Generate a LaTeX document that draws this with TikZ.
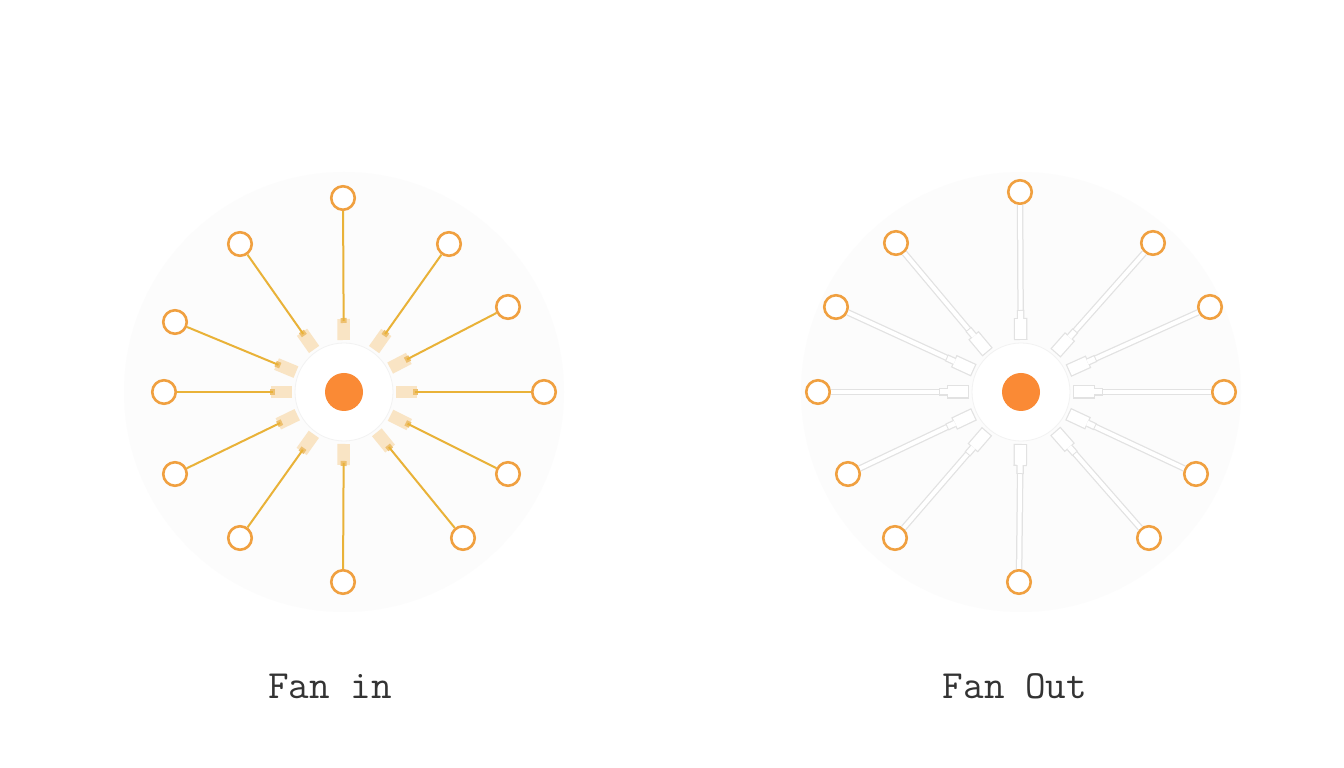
\documentclass[tikz,border=0pt]{standalone}
\usetikzlibrary{calc}
\definecolor{ring}{HTML}{F0A040}
\definecolor{dot}{HTML}{FA8A35}
\definecolor{gold}{HTML}{E9B238}
\definecolor{peach}{HTML}{F9E4C4}
\definecolor{peachd}{HTML}{EEC070}
\definecolor{halo}{HTML}{FCFCFC}
\definecolor{wire}{HTML}{E2E2E2}
\definecolor{txt}{HTML}{333333}
\tikzset{
  outer/.style={circle,draw=ring,line width=2.6pt,minimum size=23.5pt,inner sep=0pt,fill=white},
  hub/.style={circle,fill=dot,minimum size=38pt,inner sep=0pt},
  disk/.style={circle,fill=white,draw=black!5,line width=0.8pt,minimum size=98pt,inner sep=0pt},
  halodisk/.style={circle,fill=halo,minimum size=440pt,inner sep=0pt},
  linkin/.style={draw=gold,line width=2pt},
  stubin/.style={draw=peach,line width=12.5pt},
  tipin/.style={draw=peachd,line width=6pt},
  wireout/.style={draw=wire,line width=6.5pt},
  wirein/.style={draw=white,line width=4pt},
  stubout/.style={draw=wire,line width=13.5pt},
  stubouti/.style={draw=white,line width=11pt},
  label/.style={font=\ttfamily\fontsize{40}{44}\selectfont,text=txt}
}
\begin{document}
\begin{tikzpicture}[x=1pt,y=1pt]
\useasboundingbox[fill=white] (0,0) rectangle (1344,768);
% halos
\node[halodisk] (haloL) at (344,376) {};
\node[halodisk] (haloR) at (1021,376) {};
% ---------- Fan in ----------
\node[disk] (dL) at (344,376) {};
\node[hub] (hL) at (344,376) {};
\foreach \x/\y [count=\i] in {343/198,240/244,449/244,175/322,508/307,164/392,544/392,175/474,508/474,240/538,463/538,343/582}{
  \node[outer] (L\i) at (\x,768-\y) {};
  \draw[stubin] ($(hL)!52pt!(L\i)$) -- ($(hL)!73pt!(L\i)$);
  \draw[tipin] ($(hL)!69pt!(L\i)$) -- ($(hL)!74pt!(L\i)$);
  \draw[linkin] (L\i) -- ($(hL)!71pt!(L\i)$);
}
% ---------- Fan out ----------
\node[disk] (dR) at (1021,376) {};
\node[hub] (hR) at (1021,376) {};
\foreach \x/\y [count=\i] in {1020/192,896/243,1153/243,836/307,1210/307,818/392,1224/392,848/474,1196/474,895/538,1149/538,1019/582}{
  \node[outer] (R\i) at (\x,768-\y) {};
  \draw[wireout] (R\i) -- ($(hR)!78pt!(R\i)$);
  \draw[wirein] (R\i) -- ($(hR)!78pt!(R\i)$);
  \draw[stubout] ($(hR)!52pt!(R\i)$) -- ($(hR)!74pt!(R\i)$);
  \draw[stubouti] ($(hR)!53.2pt!(R\i)$) -- ($(hR)!72.8pt!(R\i)$);
  \draw[draw=wire,line width=7.5pt] ($(hR)!74pt!(R\i)$) -- ($(hR)!82pt!(R\i)$);
  \draw[draw=white,line width=5pt] ($(hR)!73pt!(R\i)$) -- ($(hR)!81pt!(R\i)$);
}
% labels
\node[label] (tL) at (330,82) {Fan in};
\node[label] (tR) at (1015,82) {Fan Out};
\end{tikzpicture}
\end{document}
